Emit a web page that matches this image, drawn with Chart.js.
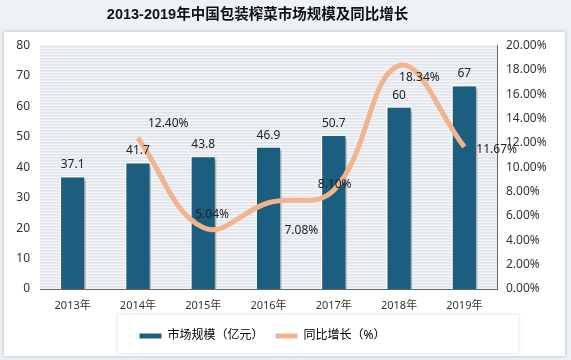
<!DOCTYPE html>
<html>
<head>
<meta charset="utf-8">
<script src="https://cdn.jsdelivr.net/npm/chart.js@4"></script>
<style>
  html,body{margin:0;padding:0;background:#eef2f7}
  #wrap{width:571px;height:360px}
</style>
</head>
<body>
<div id="wrap"><canvas id="c" width="571" height="360"></canvas></div>
<script>
// values
const years = ['2013年','2014年','2015年','2016年','2017年','2018年','2019年']
const marketSize = [37.1, 41.7, 43.8, 46.9, 50.7, 60, 67]
const growthPct = [null, 12.40, 5.04, 7.08, 8.10, 18.34, 11.67]
const leftTicks = [0,10,20,30,40,50,60,70,80]
const rightTicks = [0,2,4,6,8,10,12,14,16,18,20]

const FONT = '"Noto Sans", "Noto Sans CJK SC", sans-serif'
const BAR = '#1b5e80'
const LINE = '#f2b48c'

// background: light page, white panel, striped plot area
const backdrop = {
  id:'backdrop',
  afterLayout(chart){
    // title and legend sit a bit left of centre in the reference
    chart.titleBlock.right -= 50
    chart.legend.right -= 40
  },
  beforeDraw(chart){
    const {ctx, chartArea:a} = chart
    ctx.save()
    ctx.fillStyle = '#eef2f7'
    ctx.fillRect(0,0,chart.width,chart.height)
    ctx.shadowColor = 'rgba(0,0,0,0.25)'; ctx.shadowBlur = 4
    ctx.fillStyle = '#fff'
    ctx.fillRect(4,32,561,324)
    ctx.shadowBlur = 0
    ctx.fillStyle = '#f3f5f9'
    ctx.fillRect(a.left,a.top,a.right-a.left,a.bottom-a.top)
    ctx.strokeStyle = '#d5dbe4'; ctx.lineWidth = 1
    for(let y=a.top+1.5;y<a.bottom;y+=3){
      ctx.beginPath(); ctx.moveTo(a.left,y); ctx.lineTo(a.right,y); ctx.stroke()
    }
    // legend box
    ctx.shadowColor = 'rgba(0,0,0,0.15)'; ctx.shadowBlur = 4
    ctx.fillStyle = '#fff'
    ctx.fillRect(118,315,400,38)
    ctx.restore()
  }
}

// bar shadows
const barShadow = {
  id:'barShadow',
  beforeDatasetDraw(chart,args){
    if(args.index!==0) return
    const ctx = chart.ctx
    ctx.save()
    ctx.shadowColor = 'rgba(0,0,0,0.35)'; ctx.shadowBlur = 4; ctx.shadowOffsetX = 3; ctx.shadowOffsetY = 2
  },
  afterDatasetDraw(chart,args){
    if(args.index===0) chart.ctx.restore()
  }
}

// value labels
const valueLabels = {
  id:'valueLabels',
  afterDatasetsDraw(chart,args,opts){
    const ctx = chart.ctx
    ctx.save()
    ctx.font = '12px ' + FONT
    ctx.fillStyle = '#222'
    ctx.textAlign = 'center'; ctx.textBaseline = 'bottom'
    chart.getDatasetMeta(0).data.forEach((el,i)=>{
      ctx.fillText(String(marketSize[i]), el.x, el.y-5)
    })
    ctx.textAlign = 'left'; ctx.textBaseline = 'middle'
    chart.getDatasetMeta(1).data.forEach((el,i)=>{
      if(growthPct[i]==null) return
      const o = opts.offsets[i]
      ctx.fillText(growthPct[i].toFixed(2)+'%', el.x+o[0], el.y+o[1])
    })
    ctx.restore()
  }
}

new Chart(document.getElementById('c'),{
  data:{
    labels: years,
    datasets:[
      {type:'bar', label:'市场规模（亿元）', data: marketSize, yAxisID:'y',
       backgroundColor: BAR, borderColor:'#fff', borderWidth:1.5,
       barPercentage:0.4, categoryPercentage:1, order:2},
      {type:'line', label:'同比增长（%）', data: growthPct, yAxisID:'y1',
       borderColor: LINE, backgroundColor: LINE, borderWidth:5, tension:0.4,
       pointRadius:0, order:1}
    ]
  },
  options:{
    responsive:false, animation:false,
    layout:{padding:{left:8,right:14,top:0,bottom:8}},
    plugins:{
      title:{display:true, text:'2013-2019年中国包装榨菜市场规模及同比增长',
        color:'#111', font:{family:'"Liberation Sans", "Noto Sans CJK SC", sans-serif', size:14.5, weight:'bold'},
        padding:{top:6,bottom:22}},
      legend:{position:'bottom',
        labels:{color:'#222', font:{family:FONT,size:12}, boxWidth:22, boxHeight:5, padding:12,
          generateLabels(chart){
            return chart.data.datasets.map((d,i)=>({text:d.label, fillStyle:i?LINE:BAR, strokeStyle:i?LINE:BAR,
              lineWidth:0, datasetIndex:i}))
          }}},
      tooltip:{enabled:false},
      valueLabels:{offsets:[null,[10,-14],[-8,-13],[16,28],[-16,-6],[0,12],[12,3]]}
    },
    scales:{
      x:{grid:{display:false}, border:{color:'#666'},
        ticks:{color:'#333', font:{family:FONT,size:11}, padding:2},
        afterFit(s){ s.height = 29 }},
      y:{position:'left', min:0, max:80, border:{display:false}, grid:{display:false},
        afterBuildTicks(s){ s.ticks = leftTicks.map(v=>({value:v})) },
        ticks:{color:'#333', font:{family:FONT,size:12}, padding:2},
        afterFit(s){ s.width = 32 }},
      y1:{position:'right', min:0, max:20, border:{color:'#666'},
        grid:{display:false, drawOnChartArea:false, tickLength:5, tickColor:'#666'},
        afterBuildTicks(s){ s.ticks = rightTicks.map(v=>({value:v})) },
        ticks:{color:'#333', font:{family:FONT,size:12}, padding:4, callback:v=>v.toFixed(2)+'%'},
        afterFit(s){ s.width = 60 }}
    }
  },
  plugins:[backdrop, barShadow, valueLabels]
})
</script>
</body>
</html>
